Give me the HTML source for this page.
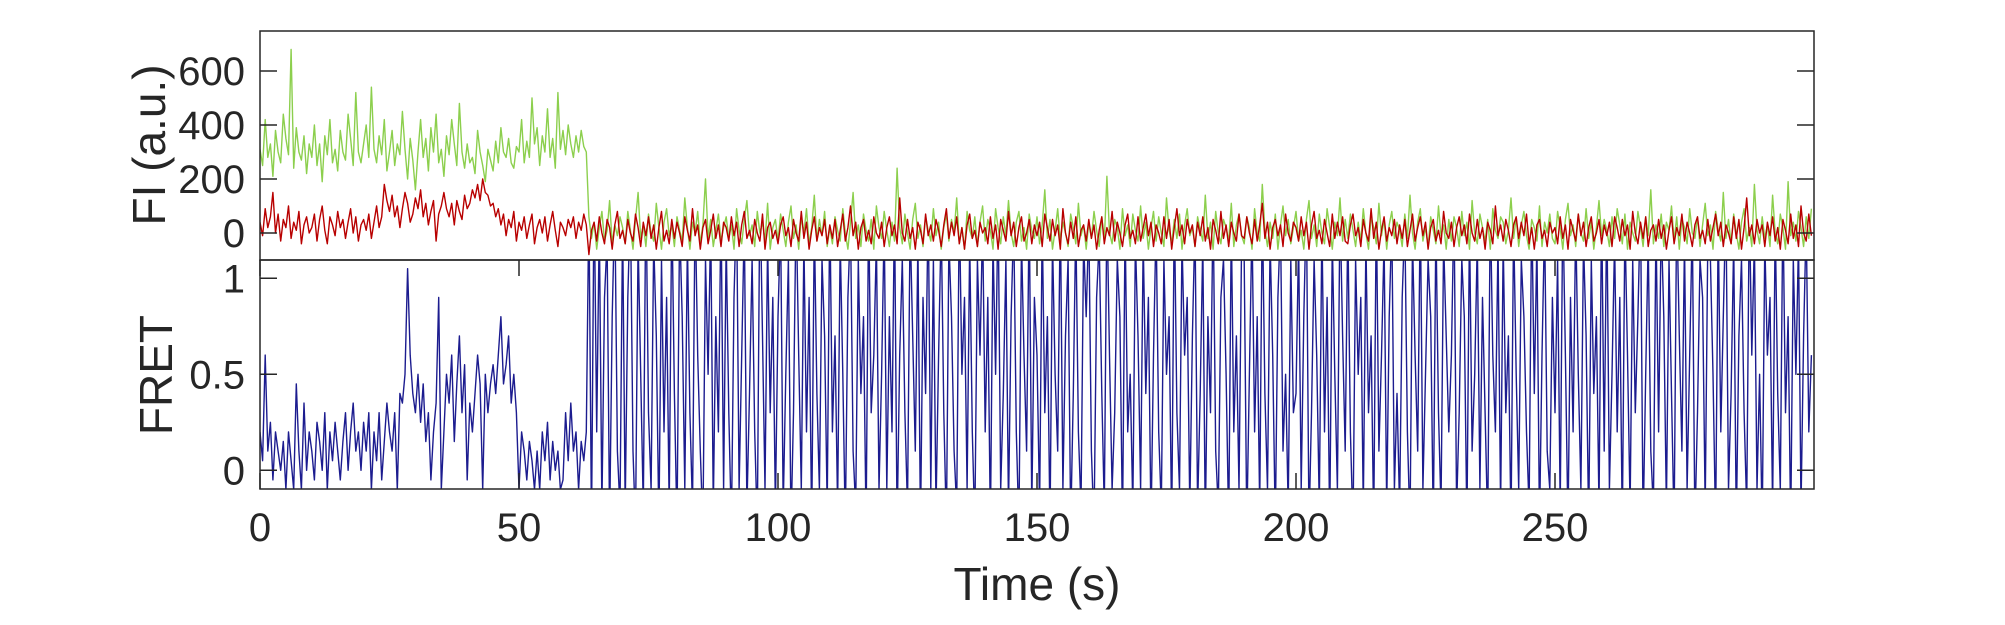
<!DOCTYPE html>
<html><head><meta charset="utf-8"><style>
html,body{margin:0;padding:0;background:#fff;width:2005px;height:625px;overflow:hidden}
svg{display:block;font-family:"Liberation Sans",Arial,sans-serif}
</style></head><body>
<svg id="chart" width="2005" height="625" xmlns="http://www.w3.org/2000/svg">
<defs>
<clipPath id="clipTop"><rect x="260" y="31" width="1554" height="229"/></clipPath>
<clipPath id="clipBot"><rect x="260" y="260" width="1554" height="229"/></clipPath>
</defs>
<g id="topLines" clip-path="url(#clipTop)"></g>
<g id="botLines" clip-path="url(#clipBot)"></g>
<g id="axes"></g>
<text x="165" y="145" font-size="46" fill="#262626" text-anchor="middle" transform="rotate(-90 165 145)">FI (a.u.)</text>
<text x="172" y="375" font-size="46" fill="#262626" text-anchor="middle" transform="rotate(-90 172 375)">FRET</text>
<text x="1037" y="600" font-size="46" fill="#262626" text-anchor="middle">Time (s)</text>
</svg>
<script>
const dt = 0.5;
const xTicks = [0,50,100,150,200,250];
const topTicks = [0,200,400,600];
const botTicks = [0,0.5,1];
const botTickLabels = ["0","0.5","1"];
const donor = [
310,250,420,280,330,210,380,300,260,440,350,290,680,240,390,300,270,360,220,330,
280,400,250,330,190,360,290,420,260,310,230,380,300,270,440,350,250,520,300,260,
330,400,280,540,310,260,360,290,420,230,300,380,250,330,290,450,310,200,350,270,
160,300,420,280,350,230,390,300,440,260,310,210,360,290,420,330,250,480,300,240,
330,260,280,220,380,300,250,190,310,270,230,340,260,390,300,280,350,260,240,320,
300,420,260,340,280,500,330,390,250,360,300,460,280,350,240,520,310,380,290,400,
330,280,360,300,380,320,300,60,-20,40,-60,20,80,-30,10,120,-40,30,-10,60,
20,-40,80,10,-60,50,150,-20,30,-50,70,0,-30,110,20,-60,40,90,-10,30,
-50,60,10,-30,130,20,-60,40,0,80,-40,30,200,-20,50,-50,10,70,-30,20,
60,-20,30,-60,90,10,-40,50,120,-10,30,-50,80,0,40,-30,110,-60,20,50,
-30,70,10,-50,40,100,-20,30,-60,60,0,90,-40,20,140,-30,50,-10,80,-50,
20,-40,60,10,-30,90,0,-60,40,150,-20,30,-50,70,10,-30,50,-60,100,20,
-20,80,10,-50,40,-30,240,20,-40,70,0,-60,50,110,-20,30,-50,60,10,-30,
90,-10,40,-60,20,70,-30,50,0,130,-40,20,-60,80,10,-20,60,-50,40,100,
-30,50,10,-60,90,20,-40,60,-10,120,0,-50,40,80,-30,20,-60,70,10,-20,
60,-40,30,160,-20,50,-60,10,90,-30,40,0,-50,70,20,-40,110,-10,30,-60,
40,-20,80,10,-50,60,-30,210,0,-40,50,20,-60,90,-10,30,-50,70,10,-30,
100,-20,40,-60,20,80,-30,60,0,-50,130,10,-40,50,-20,70,-60,30,90,-10,
20,-50,60,10,-30,140,-20,40,-60,80,0,-40,50,20,-30,110,-50,30,70,-10,
-40,60,20,-60,90,0,-30,180,10,-50,40,-20,70,-60,30,100,-10,50,-40,20,
80,-30,10,-60,50,120,-20,30,-50,70,0,-40,90,20,-60,40,-10,130,-30,50,
-20,70,10,-50,40,-30,90,0,-60,60,20,-40,110,-10,50,-60,30,80,-20,40,
10,-50,70,-20,140,0,-60,40,90,-30,20,-50,60,10,-40,100,-10,30,-60,50,
-30,60,20,-50,80,-10,40,-60,120,0,-40,70,20,-30,50,-60,90,10,-20,60,
40,-40,10,130,-20,60,-50,30,80,-10,-60,50,20,-30,100,-50,40,0,70,-20,
-40,80,20,-60,50,110,-10,30,-50,70,0,-30,90,-20,40,-60,20,120,-10,50,
10,-50,60,-20,90,30,-40,70,-60,40,0,-30,80,20,-50,60,-10,160,-40,30,
-20,70,-50,40,10,100,-30,60,-60,50,20,-40,90,0,-20,60,-50,30,110,-10,
30,-60,80,10,-30,150,-20,50,-40,70,0,-60,40,90,-30,20,-50,180,10,-40,
60,-20,30,-50,140,0,-40,70,20,-60,190,-10,40,-30,80,20,-50,60,-20,90];
const acceptor = [
40,-10,90,20,60,150,0,70,-30,50,20,100,-20,40,10,80,-40,30,60,0,
20,70,-30,50,100,10,-40,60,30,-10,80,20,50,-20,40,90,0,60,-30,30,
50,10,70,-20,40,100,20,60,180,120,80,140,60,100,20,90,150,110,40,70,
130,90,160,60,110,30,80,120,-30,70,100,150,90,60,110,30,120,80,50,140,
90,110,160,130,180,120,200,150,140,100,110,60,90,30,70,-10,50,20,80,-30,
40,10,60,-20,30,70,-40,20,50,0,60,-30,30,80,10,-50,40,20,-10,50,
20,60,-20,40,10,70,30,-80,10,40,-30,60,0,-40,50,20,-60,30,80,-20,
10,-40,50,0,-30,70,20,-50,40,-10,60,-20,30,-60,20,80,-30,10,-40,50,
-20,40,0,-50,60,10,-30,90,-10,30,-60,20,50,-40,10,70,-20,30,-50,40,
20,-30,60,-10,40,-50,30,80,-20,10,-40,50,0,-30,70,-60,20,40,-20,10,
-40,30,60,-10,20,-50,50,0,-30,80,-20,40,-60,10,60,-30,20,-10,50,-40,
30,-20,50,-50,10,70,-30,20,100,-10,40,-60,20,50,-30,10,-40,60,0,-20,
40,-50,20,60,-10,30,-40,130,0,-30,50,-20,20,-60,40,10,-40,70,-10,30,
-30,50,10,-50,30,90,-20,40,-10,60,-40,20,-60,30,70,-20,10,-50,40,0,
20,-40,60,-20,30,-60,50,10,-30,80,-10,40,-50,20,60,-30,0,50,-40,30,
-10,40,-50,70,20,-30,50,-10,30,-60,90,0,-40,40,-20,60,-50,10,30,-30,
50,-20,30,-60,10,60,-40,20,-10,80,-30,40,0,-50,30,70,-20,10,-40,60,
-30,20,70,-10,40,-50,30,0,-40,60,-20,50,-60,20,90,-10,30,-40,50,0,
30,-50,40,-10,60,-30,20,-60,50,10,-40,80,-20,30,-50,40,0,-30,70,-10,
-20,60,0,-40,50,-30,30,110,-20,40,-60,20,50,-10,30,-50,70,0,-30,40,
20,-30,60,-10,40,-60,30,80,-20,10,-40,50,0,-50,70,-20,40,-10,60,-30,
-40,30,70,-10,20,-50,50,0,-30,90,-20,40,-60,10,60,-30,20,-10,50,-40,
30,-20,50,-50,10,70,-30,20,60,-10,40,-60,20,50,-30,10,-40,80,0,-20,
40,-50,20,60,-10,30,-40,70,0,-30,50,-20,20,-60,40,10,-40,100,-10,30,
-30,50,10,-50,30,60,-20,40,-10,70,-40,20,-60,30,50,-20,10,-50,40,0,
20,-40,60,-20,30,-60,50,10,-30,70,-10,40,-50,20,60,-30,0,50,-40,30,
-10,40,-50,60,20,-30,50,-10,30,-60,80,0,-40,40,-20,60,-50,10,30,-30,
50,-20,30,-60,10,60,-40,20,-10,70,-30,40,0,-50,30,60,-20,10,-40,50,
-30,20,70,-10,40,-50,30,0,-40,60,-20,50,-60,20,130,-10,30,-40,50,0,
30,-50,40,-10,60,-30,20,-60,50,10,-40,70,-20,30,-50,100,0,-30,70,-10];
const fret = [
.2,.05,.6,.1,.25,-.05,.2,.1,0,.15,-.1,.2,.05,-.1,.45,.1,-.1,.35,0,.2,
.1,-.05,.25,.15,0,.3,-.1,.2,.05,.25,.1,-.05,.15,.3,0,.2,.35,.1,.2,0,
.25,.1,.3,-.1,.2,.05,.3,-.05,.15,.35,.2,.1,.3,-.1,.4,.35,.5,1.05,.6,.4,
.3,.5,.25,.45,.15,.3,-.05,.2,.35,.9,-.1,.2,.5,.35,.6,.15,.45,.7,.3,.55,
-.05,.35,.2,.4,.6,.45,-.1,.5,.3,.45,.55,.4,.6,.8,.45,.55,.7,.35,.5,.3,
-.1,.2,.1,-.05,.15,.05,-.1,.1,-.1,.2,.05,.25,-.05,.15,0,.1,-.1,-.05,.3,.05,
.35,.1,.2,-.1,.15,.05,.2,1.4,-.3,1.5,.2,1.3,-.2,.9,1.2,-.3,.8,1.4,.1,-.2,
1.3,-.2,.9,1.4,.1,-.3,1.2,.5,-.2,1.5,.3,-.1,1.2,.7,-.3,1.1,.2,.9,-.2,1.4,
.4,-.3,1.3,.8,-.1,1.2,.3,-.2,1.4,.6,.1,-.3,1.1,.5,1.3,-.2,.8,.2,1.4,-.1,
1.2,.3,-.3,.9,1.4,-.1,.6,1.3,-.2,.4,1.1,.2,-.3,1.5,.7,-.1,1.2,.3,.9,-.2,
.8,1.3,-.2,.5,1.1,-.3,.3,1.4,.6,-.1,1.2,.2,.9,-.3,1.3,.4,-.1,1.1,.7,-.2,
1.4,.2,.7,-.2,1.2,.5,-.3,.9,1.3,.1,-.2,1.1,.4,.8,-.3,1.4,.3,.6,1.2,-.1,
.5,1.3,-.1,.8,.2,1.4,-.3,.6,1.1,.3,-.2,1.3,.7,.1,1.2,-.3,.9,.4,1.4,-.1,
1.1,-.2,.6,1.3,.3,-.3,1.2,.8,.1,-.2,1.4,.5,.9,-.1,1.2,.2,-.3,1.1,.6,1.3,
.2,.9,-.3,1.2,.5,1.4,-.1,.4,1.1,-.2,.8,1.3,.2,-.3,1.2,.6,.1,1.4,-.2,.9,
.6,-.2,1.3,.3,.8,-.3,1.2,.5,.1,1.4,-.1,.7,1.1,-.3,.4,1.3,.2,-.2,1.2,.8,
1.3,.1,-.3,.9,1.2,.4,-.2,1.4,.6,-.1,.3,1.1,.8,-.3,1.3,.2,.5,-.2,1.2,.7,
-.1,1.2,.4,.9,-.3,.6,1.3,.2,-.2,1.1,.5,.8,-.3,1.4,.3,-.1,1.2,.6,.9,-.2,
.7,1.3,-.2,.4,1.2,-.3,.8,.3,1.4,.1,-.2,.9,1.1,.5,-.3,1.3,.2,.7,-.1,1.2,
1.1,-.3,.5,1.3,.2,.8,-.2,1.4,.4,-.1,1.2,.6,-.3,.9,1.3,.1,.5,-.2,1.1,.3,
.4,1.2,-.1,.8,1.4,-.3,.3,1.1,.6,-.2,1.3,.2,.9,-.3,1.2,.5,-.1,1.4,.7,.1,
1.3,.2,-.3,1.1,.5,.9,-.2,1.2,.3,.7,-.3,1.4,.1,.6,1.2,-.2,.8,1.3,-.1,.4,
-.2,.9,1.3,.2,-.3,1.2,.6,.1,1.4,-.1,.5,1.1,.8,-.3,1.3,.3,-.2,1.2,.7,.2,
.6,1.4,-.2,.3,1.1,.8,-.3,1.3,.1,.5,1.2,-.1,.9,.3,-.3,1.4,.6,.2,1.2,-.2,
1.2,.3,.7,-.3,1.3,.5,-.1,1.1,.8,.2,-.2,1.4,.4,1.2,-.3,.6,1.3,.1,-.1,.9,
.3,1.1,-.2,1.4,.6,-.3,.9,.2,1.3,.5,-.1,1.2,.7,-.3,1.1,.4,.8,-.2,1.4,.1,
1.4,-.1,.5,1.2,.2,.9,-.3,1.3,.6,-.2,1.1,.3,.8,1.4,-.3,.5,1.2,.1,-.2,1.3,
.2,1.3,.8,-.2,1.1,.4,-.3,1.4,.7,.1,1.2,-.1,.6,1.3,-.3,.3,1.1,.9,-.2,1.2,
1.1,.5,-.3,1.3,.2,.8,1.4,-.1,.4,1.2,-.3,.7,1.1,.3,-.2,1.4,.6,1.2,-.1,.5,
-.3,1.2,.6,.9,-.2,1.3,.4,-.1,1.4,.3,.8,-.3,1.1,.5,1.2,-.2,.7,1.3,.2,.6];

const NS = "http://www.w3.org/2000/svg";
const X0 = 260, X1 = 1814, TMAX = 300;
const xs = t => X0 + t * (X1 - X0) / TMAX;
const yTop = v => 233 - v * 54 / 200;
const yBot = v => 470.3 - v * 192;

function poly(parent, vals, yf, color, w) {
  const pts = vals.map((v, i) => xs(i * dt).toFixed(1) + "," + yf(v).toFixed(1)).join(" ");
  const p = document.createElementNS(NS, "polyline");
  p.setAttribute("points", pts);
  p.setAttribute("fill", "none");
  p.setAttribute("stroke", color);
  p.setAttribute("stroke-width", w);
  p.setAttribute("stroke-linejoin", "round");
  parent.appendChild(p);
  return p;
}
const topG = document.getElementById("topLines");
const botG = document.getElementById("botLines");
const gLine = poly(topG, donor, yTop, "#8ccf4d", 1.4);


const rLine = poly(topG, acceptor, yTop, "#b80000", 1.4);


const bLine = poly(botG, fret, yBot, "#1c1c8f", 1.4);



const ax = document.getElementById("axes");
function line(x1, y1, x2, y2) {
  const l = document.createElementNS(NS, "line");
  l.setAttribute("x1", x1); l.setAttribute("y1", y1);
  l.setAttribute("x2", x2); l.setAttribute("y2", y2);
  l.setAttribute("stroke", "#262626"); l.setAttribute("stroke-width", 1.5);
  ax.appendChild(l);
  return l;
}
function text(x, y, s, anchor) {
  const t = document.createElementNS(NS, "text");
  t.setAttribute("x", x); t.setAttribute("y", y);
  t.setAttribute("font-size", 40); t.setAttribute("fill", "#262626");
  t.setAttribute("text-anchor", anchor);
  t.textContent = s;
  ax.appendChild(t);
  return t;
}
// frames
const frTop = document.createElementNS(NS, "rect");
frTop.setAttribute("x", 260); frTop.setAttribute("y", 31); frTop.setAttribute("width", 1554); frTop.setAttribute("height", 229);
frTop.setAttribute("fill", "none"); frTop.setAttribute("stroke", "#262626"); frTop.setAttribute("stroke-width", 1.5);


ax.appendChild(frTop);
const frBot = document.createElementNS(NS, "rect");
frBot.setAttribute("x", 260); frBot.setAttribute("y", 260); frBot.setAttribute("width", 1554); frBot.setAttribute("height", 229);
frBot.setAttribute("fill", "none"); frBot.setAttribute("stroke", "#262626"); frBot.setAttribute("stroke-width", 1.5);


ax.appendChild(frBot);

topTicks.forEach(v => {
  const y = yTop(v);
  line(260, y, 277, y); line(1797, y, 1814, y);
  const t = text(245, y + 14, String(v), "end");
  
  
});
botTicks.forEach((v, i) => {
  const y = yBot(v);
  line(260, y, 277, y); line(1797, y, 1814, y);
  const t = text(245, y + 14, botTickLabels[i], "end");
  
  
});
xTicks.forEach(v => {
  const x = xs(v);
  line(x, 260, x, 276); line(x, 473, x, 489);
  const t = text(x, 541, String(v), "middle");
  
  
});
</script>
</body></html>
